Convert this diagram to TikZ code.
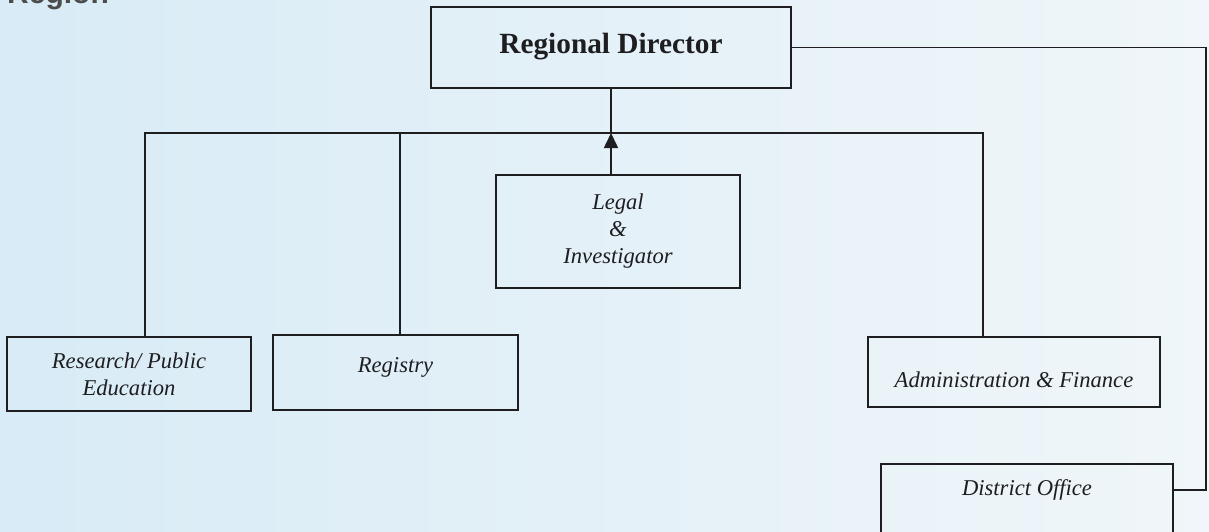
\documentclass[tikz,border=0pt]{standalone}
\usepackage{fontspec}
\setmainfont{Liberation Serif}
\newfontfamily\headsans{Liberation Sans}
\usetikzlibrary{arrows.meta}
\definecolor{bgleft}{RGB}{216,235,246}
\definecolor{bgright}{RGB}{240,246,249}
\definecolor{inkc}{RGB}{30,30,32}
\tikzset{
  orgbox/.style={draw=inkc, line width=1.6pt, inner xsep=0pt, inner ysep=0pt, text=inkc},
  itbox/.style={orgbox, font=\fontsize{22.6}{27}\selectfont\itshape, align=center},
  link/.style={draw=inkc, line width=1.6pt},
}
\begin{document}
\begin{tikzpicture}[x=1pt,y=-1pt]
\clip (0,0) rectangle (1209,531);
\useasboundingbox (0,0) rectangle (1209,531);
\shade[left color=bgleft, right color=bgright] (0,0) rectangle (1209,531);

% cut-off heading
\node[anchor=base west, inner sep=0pt, text=black!70, font=\headsans\bfseries\fontsize{30}{30}\selectfont] (head) at (7,3) {Region};

% boxes
\node[orgbox, anchor=base, minimum width=360pt, text height=46pt, text depth=35pt, font=\fontsize{29.3}{34}\selectfont\bfseries] (rd) at (611,53) {Regional Director};
\node[itbox, minimum width=244pt, minimum height=113pt] (leg) at (618,231.5) {Legal\\ \&\\ Investigator};
\node[itbox, minimum width=244pt, minimum height=74pt] (res) at (129,374) {Research/ Public\\ Education};
\node[itbox, anchor=base, minimum width=245pt, text height=37pt, text depth=38pt] (reg) at (395.5,372) {Registry};
\node[itbox, anchor=base, minimum width=292pt, text height=50pt, text depth=20pt] (adm) at (1014,387) {Administration \& Finance};
\node[itbox, anchor=base, minimum width=292pt, text height=31pt, text depth=50pt] (dist) at (1027,495) {District Office};

% connectors
\coordinate (busL) at (145,133);
\coordinate (busR) at (983,133);
\coordinate (regdrop) at (400,133);
\coordinate (rc) at (1206,490);

\draw[link] (res.north -| busL) -- (busL) -- (busR) -- (adm.north -| busR);
\draw[link] (regdrop) -- (regdrop |- reg.north);
\draw[link] (rd.south) -- (rd.south |- busL);
\draw[link, -{Triangle[width=14pt,length=15pt]}] (leg.north -| rd.south) -- (rd.south |- busL);
\draw[link] (rd.east) -| (rc) -- (rc -| dist.east);
\end{tikzpicture}
\end{document}
